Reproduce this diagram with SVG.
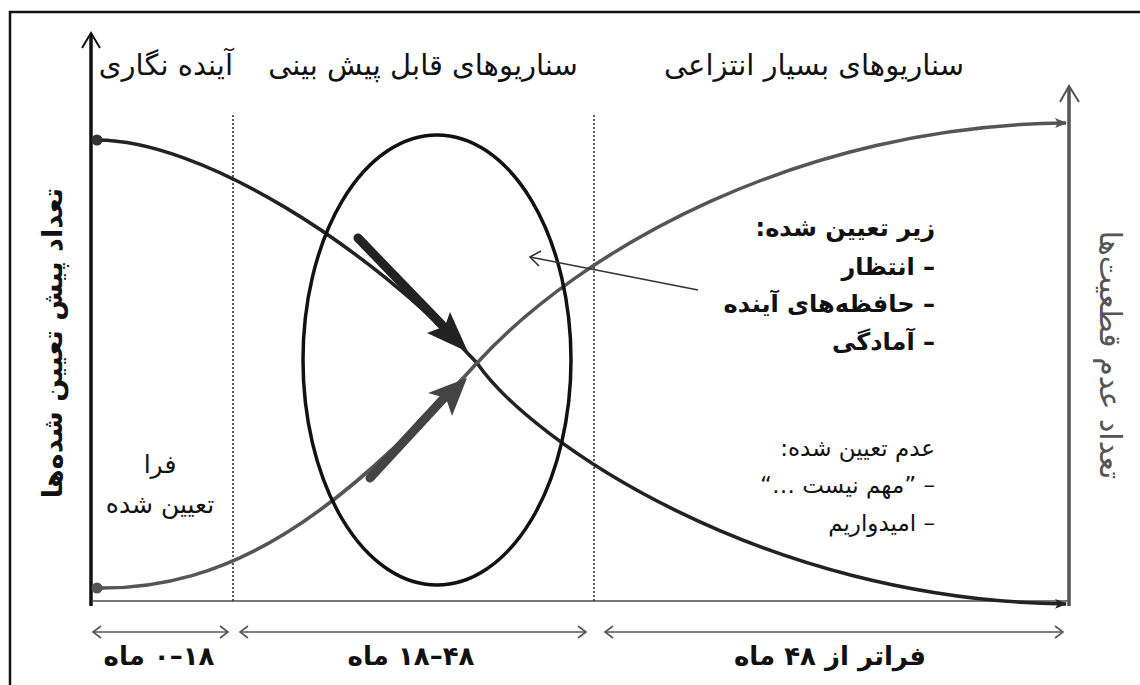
<svg xmlns="http://www.w3.org/2000/svg" width="1140" height="685" viewBox="0 0 1140 685">
  <style>
    text { font-family: "DejaVu Sans", "Noto Sans", sans-serif; fill: #111; }
    .title { font-size: 29px; }
    .rl { direction: rtl; }
    .bold { font-weight: bold; }
    .lst { font-size: 23px; }
    .lstb { font-size: 24px; font-weight: bold; }
    .over { font-size: 25px; }
    .dur { font-size: 26px; font-weight: bold; }
    .axisl { font-size: 27px; font-weight: bold; }
    .axisr { font-size: 30px; fill: #555; }
    .dot { stroke: #333; stroke-width: 1.6; stroke-dasharray: 2 2; fill: none; }
    .dim { stroke: #555; stroke-width: 1.6; fill: none; }
  </style>
  <defs>
    <marker id="headBlack" viewBox="0 0 12 10" refX="11" refY="5" markerWidth="12" markerHeight="10" markerUnits="userSpaceOnUse" orient="auto">
      <path d="M0,0 L12,5 L0,10 L3,5 z" fill="#222"/>
    </marker>
    <marker id="headGray" viewBox="0 0 12 10" refX="11" refY="5" markerWidth="12" markerHeight="10" markerUnits="userSpaceOnUse" orient="auto">
      <path d="M0,0 L12,5 L0,10 L3,5 z" fill="#555"/>
    </marker>
  </defs>

  <rect width="1140" height="685" fill="#fff"/>
  <rect x="10" y="12" width="1140" height="700" fill="none" stroke="#111" stroke-width="2.5"/>

  <g id="axes">
    <line x1="91" y1="34" x2="91" y2="606" stroke="#111" stroke-width="3.5"/>
    <path d="M82,48 L91,33 L100,48" fill="none" stroke="#111" stroke-width="2"/>
    <line x1="93" y1="601" x2="1069" y2="601" stroke="#777" stroke-width="2"/>
    <line x1="1069" y1="87" x2="1069" y2="606" stroke="#555" stroke-width="3.5"/>
    <path d="M1060,102 L1069,86 L1079,102" fill="none" stroke="#555" stroke-width="2"/>
    <line class="dot" x1="233" y1="115" x2="233" y2="601"/>
    <line class="dot" x1="594" y1="115" x2="594" y2="601"/>
  </g>

  <g id="connectors">
    <path id="curve-down" d="M97,140 C200,140 367,244 477,363 C530,440 760,600 1066,604" fill="none" stroke="#222" stroke-width="3.5" marker-end="url(#headBlack)"/>
    <path id="curve-up" d="M97,588 C230,590 337,517 477,363 C580,250 800,125 1066,123" fill="none" stroke="#555" stroke-width="3.5" marker-end="url(#headGray)"/>
    <circle cx="97" cy="140" r="5.5" fill="#333"/>
    <circle cx="97" cy="588" r="5.5" fill="#555"/>
    <ellipse cx="437" cy="360" rx="134" ry="225" fill="none" stroke="#111" stroke-width="3.5"/>
    <line x1="358" y1="238" x2="442" y2="325" stroke="#222" stroke-width="9" stroke-linecap="round"/>
    <polygon points="468,352 427,333 445,326 450,312" fill="#222"/>
    <line x1="370" y1="478" x2="444" y2="398" stroke="#444" stroke-width="9" stroke-linecap="round"/>
    <polygon points="467,378 428,393 446,398 452,416" fill="#444"/>
    <line x1="698" y1="290" x2="530" y2="257" stroke="#333" stroke-width="1.6"/>
    <path d="M541,251 L530,257 L539,266" fill="none" stroke="#333" stroke-width="1.6"/>
    <g class="dim">
      <line x1="93" y1="632" x2="228" y2="632"/>
      <path d="M101,626 L93,632 L101,638 M220,626 L228,632 L220,638"/>
      <line x1="240" y1="632" x2="586" y2="632"/>
      <path d="M248,626 L240,632 L248,638 M578,626 L586,632 L578,638"/>
      <line x1="605" y1="632" x2="1063" y2="632"/>
      <path d="M613,626 L605,632 L613,638 M1055,626 L1063,632 L1055,638"/>
    </g>
  </g>

  <g id="header-foresight"><text class="title rl" x="233" y="75" text-anchor="start">آینده نگاری</text></g>
  <g id="header-predictable"><text class="title rl" x="423" y="75" text-anchor="middle">سناریوهای قابل پیش بینی</text></g>
  <g id="header-abstract"><text class="title rl" x="814" y="75" text-anchor="middle">سناریوهای بسیار انتزاعی</text></g>

  <g id="label-left-axis"><text class="axisl rl" transform="translate(52,343) rotate(-90)" text-anchor="middle" dominant-baseline="central">تعداد پیش تعیین شده‌ها</text></g>
  <g id="label-right-axis"><text class="axisr rl" transform="translate(1110,355) rotate(90)" text-anchor="middle" dominant-baseline="central">تعداد عدم قطعیت‌ها</text></g>

  <g id="label-over">
    <text class="over rl" x="160" y="473" text-anchor="middle">فرا</text>
    <text class="over rl" x="160" y="513" text-anchor="middle">تعیین شده</text>
  </g>

  <g id="label-under">
    <text class="lstb rl" x="935" y="236" text-anchor="start">زیر تعیین شده:</text>
    <text class="lstb rl" x="935" y="275" text-anchor="start">– انتظار</text>
    <text class="lstb rl" x="935" y="312" text-anchor="start">– حافظه‌های آینده</text>
    <text class="lstb rl" x="935" y="350" text-anchor="start">– آمادگی</text>
  </g>

  <g id="label-undetermined">
    <text class="lst rl" x="935" y="456" text-anchor="start">عدم تعیین شده:</text>
    <text class="lst rl" x="935" y="493" text-anchor="start">– ”مهم نیست …“</text>
    <text class="lst rl" x="935" y="531" text-anchor="start">– امیدواریم</text>
  </g>

  <g id="dur-1"><text class="dur rl" x="159" y="665" text-anchor="middle">۱۸–۰ ماه</text></g>
  <g id="dur-2"><text class="dur rl" x="411" y="665" text-anchor="middle">۴۸–۱۸ ماه</text></g>
  <g id="dur-3"><text class="dur rl" x="830" y="665" text-anchor="middle">فراتر از ۴۸ ماه</text></g>
</svg>
